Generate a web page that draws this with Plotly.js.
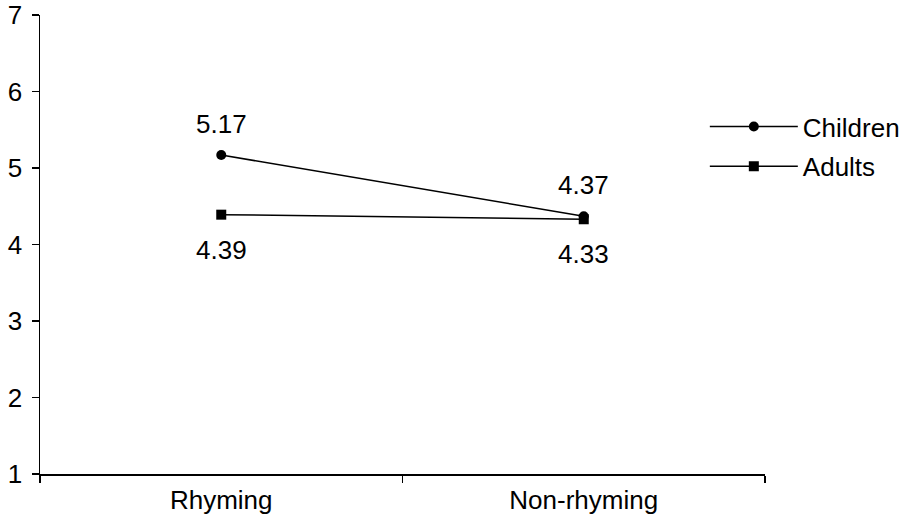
<!DOCTYPE html>
<html>
<head>
<meta charset="utf-8">
<script src="https://cdn.plot.ly/plotly-3.0.1.min.js"></script>
<style>html,body{margin:0;padding:0;background:#fff;}#chart{width:909px;height:517px;}</style>
</head>
<body>
<div id="chart"></div>
<script>
const categories = ["Rhyming", "Non-rhyming"];
const children = [5.17, 4.37];
const adults = [4.39, 4.33];
const yTicks = [1, 2, 3, 4, 5, 6, 7];

const FONT = "Liberation Sans, Arial, sans-serif";

const traces = [
  {
    x: categories, y: children, name: "Children", type: "scatter", mode: "lines+markers",
    legendgroup: "c",
    line: {color: "#000", width: 1.5},
    marker: {symbol: "circle", size: 10, color: "#000"}
  },
  {
    x: categories, y: adults, name: "Adults", type: "scatter", mode: "lines+markers",
    legendgroup: "a",
    line: {color: "#000", width: 1.5},
    marker: {symbol: "square", size: 10, color: "#000"}
  }
];

const annotations = [];
categories.forEach((c, i) => {
  annotations.push({x: c, y: children[i], text: children[i].toFixed(2), showarrow: false,
    yshift: 31, font: {family: FONT, size: 26, color: "#000"}});
  annotations.push({x: c, y: adults[i], text: adults[i].toFixed(2), showarrow: false,
    yshift: -35, font: {family: FONT, size: 26, color: "#000"}});
});

const layout = {
  width: 909, height: 517,
  margin: {l: 40, r: 144, t: 15, b: 43, autoexpand: false},
  paper_bgcolor: "#fff", plot_bgcolor: "#fff",
  font: {family: FONT, size: 26, color: "#000"},
  showlegend: true,
  legend: {x: 0.917, y: 0.808, xanchor: "left", yanchor: "top", font: {family: FONT, size: 26, color: "#000"},
    itemwidth: 88, traceorder: "grouped", tracegroupgap: 3, bgcolor: "rgba(0,0,0,0)"},
  xaxis: {
    type: "category", range: [-0.5, 1.5], tickson: "boundaries",
    showline: true, linecolor: "#000", linewidth: 2,
    ticks: "outside", ticklen: 7, tickwidth: 1.5, tickcolor: "#000",
    showgrid: false, zeroline: false, ticklabelstandoff: 2,
    tickfont: {family: FONT, size: 26, color: "#000"}
  },
  yaxis: {
    range: [1, 7], tickvals: yTicks, showline: true, linecolor: "#000", linewidth: 1.5,
    ticks: "outside", ticklen: 7, tickwidth: 1.5, tickcolor: "#000",
    showgrid: false, zeroline: false, ticklabelstandoff: 4,
    tickfont: {family: FONT, size: 26, color: "#000"}
  },
  annotations: annotations
};

Plotly.newPlot("chart", traces, layout, {displayModeBar: false, staticPlot: true});
</script>
</body>
</html>
